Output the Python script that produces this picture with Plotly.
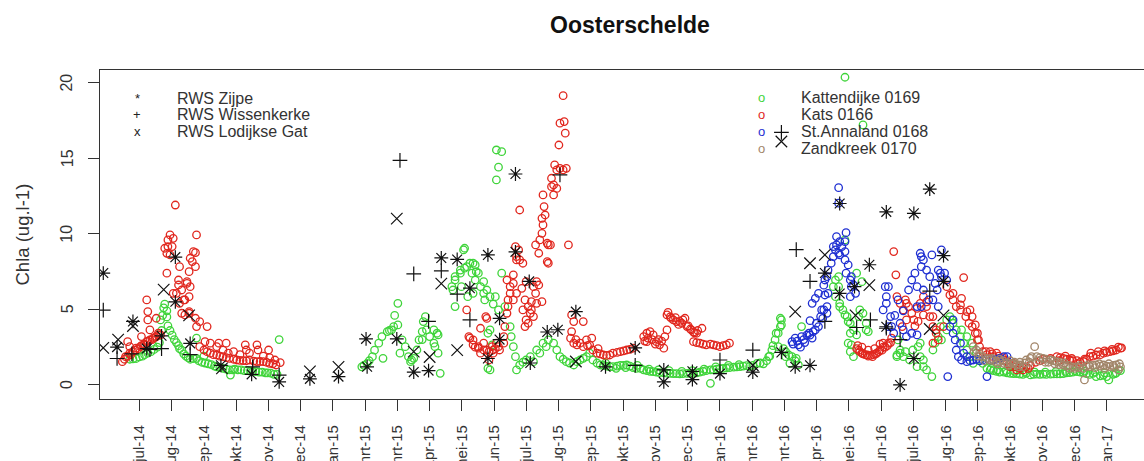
import plotly.graph_objects as go

# Chlorophyll-a in the Oosterschelde, mid 2014 - early 2017.
# x values are days counted from 1 June 2014.

title_text = "Oosterschelde"
y_title = "Chla (ug.l-1)"

tick_labels = ["jul-14", "aug-14", "sep-14", "okt-14", "nov-14", "dec-14", "jan-15",
               "mrt-15", "mrt-15", "apr-15", "mei-15", "jun-15", "jul-15", "aug-15",
               "sep-15", "okt-15", "nov-15", "dec-15", "jan-16", "mrt-16", "mrt-16",
               "apr-16", "mei-16", "jun-16", "jul-16", "aug-16", "sep-16", "okt-16",
               "nov-16", "dec-16", "jan-17"]
tick_first_day = 30
tick_step_days = 30.44
y_ticks = [0, 5, 10, 15, 20]

# RWS monitoring stations: (day, chla)
zijpe = [(-4, 7.4), (9, 2.5), (24, 4.2), (37, 2.4), (51, 3.25), (64, 8.45), (64, 5.5),
         (78, 2.75), (107, 1.3), (136, 0.7), (162, 0.2), (191, 0.4), (218, 0.55),
         (244, 3.05), (245, 1.2), (273, 3.05), (289, 0.85), (303, 0.95), (315, 8.4),
         (330, 8.3), (342, 6.4), (359, 8.6), (359, 1.75), (370, 4.4), (370, 3.0),
         (385, 13.95), (385, 8.8), (398, 6.85), (399, 1.45), (415, 3.5), (425, 3.65),
         (442, 4.85), (470, 1.2), (498, 2.45), (525, 1.0), (525, 0.2), (552, 0.9),
         (552, 0.35), (578, 0.75), (609, 0.85), (636, 2.15), (649, 1.2), (663, 1.3),
         (677, 7.4), (691, 12.0), (691, 6.05), (705, 6.5), (719, 7.95), (735, 11.45),
         (735, 3.85), (748, 0.0), (761, 11.35), (761, 1.75), (776, 12.95), (789, 8.55),
         (789, 6.85)]

wissenkerke = [(-4, 4.95), (9, 1.75), (23, 2.05), (40, 2.35), (51, 2.4), (78, 2.0),
               (137, 1.2), (162, 0.65), (276, 14.85), (289, 7.35), (303, 4.2), (315, 7.55),
               (330, 6.0), (342, 4.3), (427, 13.9), (498, 1.3), (578, 1.65), (609, 2.3),
               (636, 16.7), (650, 8.95), (663, 6.85), (677, 4.2), (707, 3.8), (720, 4.3),
               (735, 3.75), (748, 3.0), (776, 6.2)]

lodijkse_gat = [(-4, 2.45), (10, 3.0), (24, 3.9), (53, 6.3), (77, 4.6), (108, 1.1),
                (191, 0.9), (218, 1.2), (273, 11.0), (289, 2.2), (304, 1.85), (315, 6.7),
                (330, 2.3), (442, 1.55), (609, 1.3), (636, 16.1), (649, 4.85), (663, 8.05),
                (677, 8.6), (706, 4.6), (719, 6.6), (776, 3.7), (789, 4.6)]

# Continuous stations: (day, chla)
kattendijke = [
    (21, 1.7), (24, 1.72), (27, 1.75), (30, 1.85), (33, 1.9), (35, 2.0), (38, 2.1), (41, 2.2),
    (44, 2.35), (47, 2.5), (49, 2.8), (50, 4.3), (51, 3.6), (52, 4.6), (53, 5.1), (54, 5.35),
    (56, 4.9), (56, 4.5), (57, 3.9), (59, 3.6), (61, 3.3), (63, 3.0), (65, 2.8), (67, 2.6),
    (68, 2.4), (70, 2.3), (72, 2.05), (74, 1.9), (76, 1.8), (78, 1.7), (81, 1.75), (84, 1.75),
    (86, 1.6), (89, 1.5), (92, 1.45), (95, 1.4), (98, 1.35), (101, 1.25), (103, 1.2),
    (106, 1.15), (109, 1.1), (112, 1.05), (115, 1.0), (118, 1.0), (120, 1.05), (123, 1.0),
    (126, 1.0), (129, 0.95), (132, 0.95), (135, 0.9), (137, 0.9), (140, 0.88), (143, 0.85),
    (146, 0.85), (149, 0.8), (151, 0.8), (154, 0.78), (157, 0.7), (160, 0.7), (84, 3.1),
    (91, 1.9), (116, 0.65), (162, 3.0),
    (240, 1.2), (242, 1.3), (245, 1.43), (247, 1.6), (250, 1.87), (252, 2.3), (256, 2.76),
    (259, 3.2), (260, 1.76), (264, 3.53), (266, 3.6), (268, 3.64), (270, 3.86), (271, 4.6),
    (274, 5.4), (274, 3.97), (276, 2.1), (278, 2.98), (281, 2.53), (284, 1.87), (286, 1.54),
    (287, 1.65), (289, 1.76), (292, 2.31), (294, 2.98), (297, 3.53), (297, 3.0), (298, 4.19),
    (300, 4.52), (301, 3.64), (304, 3.2), (308, 2.76), (308, 3.64), (309, 2.53), (311, 3.42),
    (312, 2.1), (312, 3.31), (314, 0.77),
    (325, 6.5), (326, 6.28), (328, 6.94), (328, 5.18), (328, 7.16), (333, 7.6), (333, 7.39),
    (334, 6.5), (336, 8.93), (337, 9.04), (337, 7.72), (339, 7.82), (340, 5.84), (342, 8.05),
    (344, 7.39), (345, 6.06), (345, 8.05), (347, 6.94), (347, 7.94), (348, 7.49), (350, 7.39),
    (352, 6.5), (355, 6.83), (355, 6.06), (356, 5.62), (358, 6.28), (359, 3.42), (359, 1.1),
    (361, 5.84), (361, 3.64), (361, 0.99), (363, 2.65), (364, 5.35), (366, 5.84), (367, 15.54),
    (367, 13.56), (369, 14.4), (369, 4.96), (372, 15.43), (372, 7.39), (375, 5.18), (380, 3.86),
    (381, 3.2), (383, 2.53), (385, 1.87), (386, 0.99),
    (389, 1.32), (392, 1.5), (395, 1.65), (399, 1.87), (402, 1.54), (405, 2.31), (408, 2.1),
    (411, 2.76), (414, 2.53), (416, 2.98), (421, 2.76), (424, 2.31), (427, 1.87), (430, 1.7),
    (433, 1.54), (436, 1.45), (440, 1.32), (443, 1.54), (446, 1.65), (449, 1.76), (452, 1.87),
    (455, 2.1), (458, 1.65), (462, 1.45), (465, 1.32), (468, 1.3), (471, 1.25), (474, 1.2),
    (477, 1.21), (481, 1.25), (484, 1.3), (487, 1.3), (490, 1.32), (493, 1.25), (496, 1.15),
    (499, 1.1), (503, 1.1), (506, 1.0), (509, 0.95), (512, 0.9), (515, 0.88), (518, 0.85),
    (521, 0.82), (525, 0.8), (528, 0.78), (531, 0.77), (534, 0.75), (537, 0.75), (540, 0.73),
    (543, 0.75), (547, 0.76), (550, 0.77), (553, 0.77), (556, 0.8), (559, 0.85), (562, 0.9),
    (565, 0.95), (569, 0.99), (572, 1.0), (575, 1.05), (578, 1.08), (581, 1.1), (584, 1.12),
    (587, 1.15), (591, 1.18), (594, 1.2), (597, 1.21), (600, 1.25), (603, 1.28), (569, 0.11),
    (470, 1.45), (480, 1.1), (489, 1.15), (500, 1.3), (511, 1.05), (520, 1.0), (530, 0.95),
    (542, 0.9), (552, 0.95), (563, 1.05), (574, 1.2), (586, 1.3), (596, 1.35),
    (606, 1.21), (609, 1.3), (613, 1.43), (616, 1.45), (619, 1.4), (622, 1.6), (624, 1.87),
    (625, 1.9), (627, 2.31), (628, 2.6), (630, 2.98), (631, 3.42), (633, 3.42), (633, 2.53),
    (635, 3.86), (635, 4.41), (636, 4.3), (636, 3.97), (638, 2.4), (640, 2.2), (640, 1.87),
    (643, 1.98), (644, 1.43), (646, 1.87), (649, 1.6), (650, 1.76), (652, 1.32), (655, 3.86),
    (685, 6.5), (687, 6.94), (687, 5.84), (690, 7.16), (690, 6.5), (691, 5.4), (691, 5.18),
    (694, 4.96), (696, 9.59), (696, 4.63), (696, 20.35), (698, 4.52), (699, 4.19), (699, 2.76),
    (701, 4.08), (701, 3.42), (701, 2.2), (702, 2.65), (704, 3.64), (704, 1.87), (707, 3.31),
    (707, 7.39), (709, 4.52), (710, 4.96), (712, 6.83), (713, 4.74), (713, 17.2), (716, 4.08),
    (716, 3.64), (718, 3.53),
    (745, 1.87), (745, 1.98), (746, 2.98), (748, 2.31), (748, 2.1), (751, 1.87), (753, 2.2),
    (757, 1.65), (760, 2.31), (764, 1.21), (765, 2.53), (767, 2.76), (767, 1.87), (770, 1.65),
    (770, 1.21), (773, 0.99), (778, 0.55), (779, 2.31), (781, 2.76), (784, 3.2), (786, 3.86),
    (787, 2.98), (792, 4.3), (792, 3.64), (795, 4.52), (797, 4.3), (798, 4.08), (801, 3.64),
    (805, 3.2), (806, 3.64), (808, 2.76), (811, 2.31), (811, 3.2), (814, 1.87), (816, 2.76),
    (817, 1.43), (820, 2.1), (823, 1.6), (826, 1.43), (830, 1.1),
    (833, 0.99), (836, 0.95), (839, 0.9), (842, 0.85), (846, 0.85), (849, 0.8), (852, 0.77),
    (855, 0.75), (858, 0.75), (861, 0.72), (864, 0.7), (867, 0.77), (871, 0.66), (874, 0.7),
    (877, 0.72), (880, 0.7), (883, 0.72), (886, 0.7), (890, 0.72), (893, 0.73), (896, 0.73),
    (899, 0.73), (902, 0.75), (905, 0.8), (908, 0.82), (911, 0.85), (915, 0.88), (918, 0.85),
    (921, 0.8), (924, 0.75), (927, 0.7), (930, 0.77), (933, 0.55), (937, 0.6), (940, 0.65),
    (943, 0.55), (945, 0.33), (949, 0.7), (952, 0.8), (954, 0.99), (956, 0.95),
    (834, 1.1), (840, 1.0), (848, 0.95), (856, 0.9), (866, 0.88), (875, 0.85), (885, 0.85),
    (895, 0.88), (904, 0.9), (913, 0.95), (922, 0.92), (932, 0.85), (941, 0.8), (951, 0.75),
]

kats = [
    (14, 1.54), (16, 1.7), (17, 1.87), (19, 1.9), (21, 2.1), (22, 2.0), (24, 2.2), (26, 2.3),
    (27, 2.43), (29, 2.4), (31, 2.53), (32, 2.6), (34, 2.65), (35, 2.7), (37, 2.86), (38, 2.9),
    (40, 2.98), (42, 3.0), (43, 3.09), (45, 3.15), (46, 3.2), (48, 3.3), (50, 3.31),
    (19, 2.86), (21, 2.53), (32, 3.2), (37, 5.62), (38, 4.85), (38, 4.3), (40, 3.64), (46, 4.41),
    (48, 3.42), (54, 9.04), (56, 7.39), (56, 8.7), (57, 9.59), (57, 9.15), (59, 9.92), (59, 8.6),
    (61, 9.15), (62, 9.7), (62, 6.06), (64, 11.9), (65, 6.06), (67, 6.94), (67, 6.61), (68, 7.82),
    (68, 5.4), (70, 6.28), (70, 4.74), (72, 5.62), (73, 4.63), (73, 5.62), (75, 6.83), (75, 6.72),
    (77, 5.84), (77, 7.49), (77, 4.74), (77, 4.85), (78, 6.5), (78, 8.38), (80, 8.16), (81, 8.82),
    (83, 7.82), (83, 4.41), (83, 8.75), (84, 9.92), (84, 3.86), (87, 4.19), (94, 3.86),
    (87, 2.53), (91, 2.31), (92, 2.86), (94, 2.2), (97, 2.1), (97, 2.76), (100, 2.0), (103, 1.98),
    (103, 2.53), (105, 2.76), (106, 1.9), (109, 1.87), (109, 2.3), (112, 2.76), (112, 1.8),
    (114, 2.1), (115, 1.76), (119, 1.7), (119, 2.2), (122, 1.65), (125, 1.62), (125, 2.0),
    (128, 1.61), (130, 2.65), (131, 2.31), (131, 1.6), (134, 1.65), (134, 2.1), (138, 1.58),
    (141, 1.54), (141, 2.65), (142, 2.31), (144, 1.55), (147, 1.54), (147, 1.9), (150, 1.5),
    (152, 2.31), (153, 1.43), (153, 1.8), (156, 1.4), (158, 1.65), (159, 1.32), (163, 1.48),
    (339, 4.96), (341, 3.2), (342, 3.1), (345, 2.98), (345, 2.65), (347, 2.5), (350, 2.53),
    (350, 2.43), (352, 2.1), (352, 3.75), (355, 2.76), (355, 2.31), (357, 4.52), (358, 2.31),
    (358, 4.4), (360, 2.2), (360, 1.65), (363, 2.53), (364, 2.1), (364, 2.31), (366, 2.4),
    (367, 2.76), (369, 2.53), (370, 2.31), (374, 3.2), (374, 2.76), (375, 3.86), (377, 4.74),
    (377, 6.94), (378, 5.62), (378, 5.18), (380, 6.06), (380, 6.5), (383, 6.72), (383, 7.28),
    (383, 5.62), (385, 9.15), (386, 6.06), (386, 8.27), (386, 8.49), (388, 8.93), (389, 11.57),
    (389, 8.27), (391, 6.39), (392, 8.05), (392, 4.96), (394, 5.62), (394, 3.86), (395, 4.3),
    (395, 6.83), (397, 5.18), (397, 4.08), (399, 4.74), (400, 5.51), (400, 4.96), (402, 6.5),
    (402, 4.52), (404, 6.06), (404, 9.26), (405, 6.83), (405, 5.4), (407, 6.61), (407, 8.71),
    (408, 9.59), (410, 10.03), (412, 11.8), (410, 11.02), (410, 5.51), (411, 10.58),
    (411, 12.57), (413, 11.24), (415, 8.15), (415, 9.37), (416, 9.26), (416, 8.05), (418, 9.26),
    (419, 13.11), (419, 13.67), (421, 12.57), (421, 13.23), (422, 14.55), (424, 14.22),
    (424, 13.0), (426, 15.87), (427, 14.33), (427, 17.31), (430, 19.13), (430, 14.22),
    (431, 17.42), (432, 16.65), (433, 14.33), (435, 9.26), (438, 4.63), (440, 4.19), (449, 4.19),
    (437, 3.09), (438, 3.53), (440, 2.76), (442, 3.0), (443, 2.65), (446, 2.76), (449, 2.53),
    (452, 2.98), (453, 2.6), (455, 2.65), (457, 3.09), (458, 2.31), (462, 2.1), (463, 2.4),
    (465, 2.05), (468, 1.98), (471, 1.95), (474, 1.98), (477, 2.1), (481, 2.15), (484, 2.2),
    (487, 2.25), (490, 2.31), (493, 2.35), (496, 2.43),
    (506, 3.2), (507, 2.9), (509, 3.42), (509, 2.86), (510, 3.1), (512, 3.53), (514, 3.0),
    (515, 3.31), (517, 2.7), (518, 2.86), (520, 3.0), (521, 2.65), (523, 2.9), (525, 2.43),
    (526, 3.2), (528, 3.64),
    (528, 4.63), (529, 4.8), (531, 4.5), (532, 4.41), (534, 4.3), (536, 4.45), (537, 4.19),
    (539, 4.0), (540, 4.2), (542, 4.08), (543, 4.3), (545, 4.41), (547, 3.86), (548, 3.9),
    (550, 3.7), (551, 3.64), (553, 3.5), (554, 3.45), (556, 3.42), (557, 3.6), (561, 3.75),
    (553, 2.86), (556, 2.8), (559, 2.76), (562, 2.7), (565, 2.65), (569, 2.7), (572, 2.65),
    (575, 2.6), (578, 2.53), (581, 2.6), (584, 2.65), (587, 2.76),
    (707, 2.4), (708, 2.6), (709, 2.3), (710, 2.2), (712, 2.1), (712, 2.5), (713, 2.05),
    (715, 2.0), (717, 1.98), (718, 1.9), (718, 2.3), (720, 1.95), (722, 1.87), (723, 2.0),
    (724, 2.4), (725, 2.05), (726, 2.1), (728, 2.2), (729, 2.31), (729, 2.7), (731, 2.3),
    (732, 2.5), (732, 2.76), (734, 2.5), (736, 2.6), (737, 2.76), (739, 2.8), (740, 3.09),
    (742, 8.82), (744, 7.28), (745, 5.84), (748, 5.4), (750, 3.86), (751, 4.96), (753, 5.62),
    (754, 4.3), (754, 5.4), (756, 5.18), (759, 4.74), (761, 4.3), (762, 3.9), (764, 5.07),
    (765, 4.2), (767, 5.4), (770, 5.84), (770, 4.63), (773, 5.18), (773, 5.5), (776, 4.52),
    (779, 3.86), (779, 4.52), (779, 2.76), (782, 3.42), (782, 3.64), (784, 2.98), (789, 3.86),
    (792, 6.5), (795, 5.95), (798, 5.62), (798, 6.06), (801, 5.18), (805, 4.96), (805, 5.29),
    (806, 5.73), (808, 7.1), (810, 4.52), (811, 4.85), (813, 4.08), (814, 4.96), (816, 3.86),
    (816, 4.52), (819, 3.42), (819, 3.97), (821, 2.98), (821, 3.42), (822, 2.98), (823, 2.53),
    (826, 2.2),
    (830, 2.0), (833, 2.2), (836, 1.87), (839, 2.1), (842, 1.75), (846, 1.65), (849, 1.55),
    (852, 1.21), (855, 1.43), (858, 0.99), (861, 1.1), (864, 0.99), (867, 1.2), (871, 1.3),
    (876, 1.5), (880, 1.6), (883, 1.7), (890, 1.75), (896, 1.87), (899, 1.8), (902, 1.76),
    (905, 1.7), (908, 1.65), (911, 1.6), (915, 1.61), (918, 1.5), (921, 1.55), (924, 1.7),
    (927, 1.87), (930, 1.9), (933, 1.98), (937, 2.0), (940, 2.1), (943, 2.15), (946, 2.2),
    (949, 2.25), (952, 2.31), (956, 2.43), (957, 2.45),
    (829, 2.2), (835, 2.05), (841, 1.9), (845, 1.8), (851, 1.4), (857, 1.2), (863, 1.2),
    (869, 1.1), (898, 1.6), (904, 1.9), (910, 1.75), (916, 1.4), (922, 1.7), (928, 2.1),
    (935, 2.2), (941, 2.25), (948, 2.35), (954, 2.5),
]

st_annaland = [
    (646, 2.86), (647, 2.7), (649, 3.09), (651, 2.9), (652, 2.65), (654, 2.5), (655, 3.2),
    (657, 3.0), (658, 2.8), (660, 3.3), (662, 3.42), (663, 3.3), (663, 4.25), (665, 3.1),
    (665, 5.4), (666, 3.53), (668, 3.64), (668, 5.73), (669, 4.08), (671, 3.86), (671, 6.06),
    (673, 4.52), (674, 4.96), (675, 4.4), (676, 6.6), (676, 4.96), (677, 6.94), (677, 5.95),
    (679, 5.18), (679, 7.16), (679, 4.74), (680, 7.6), (680, 6.06), (683, 8.05), (685, 8.49),
    (685, 9.15), (687, 8.93), (688, 9.26), (688, 9.81), (690, 12.02), (690, 8.71), (690, 13.05),
    (691, 8.6), (691, 9.48), (693, 9.15), (696, 9.48), (696, 8.82), (696, 8.27), (697, 10.07),
    (697, 7.39), (699, 7.94), (701, 6.94), (701, 5.84), (702, 6.5), (702, 7.16), (704, 6.61),
    (706, 6.06),
    (732, 4.96), (734, 6.5), (735, 5.84), (735, 5.4), (737, 6.5), (737, 3.86), (739, 4.52),
    (740, 3.86), (742, 3.42), (743, 4.6), (746, 5.62), (748, 4.08), (751, 3.64), (751, 4.9),
    (754, 3.2), (756, 6.28), (759, 6.94), (759, 3.42), (762, 7.39), (764, 6.5), (764, 5.18),
    (764, 3.31), (767, 8.71), (768, 7.82), (768, 8.49), (768, 5.18), (770, 8.27), (770, 6.28),
    (773, 7.6), (775, 5.62), (776, 7.16), (778, 8.6), (779, 5.62), (781, 6.72), (783, 6.28),
    (784, 7.6), (784, 5.18), (786, 7.39), (787, 8.93), (787, 7.16), (790, 7.39), (792, 6.94),
    (793, 0.55), (795, 3.86), (798, 3.42), (798, 4.3), (800, 2.98), (801, 2.31), (803, 1.87),
    (805, 2.76), (806, 1.65), (808, 2.1), (811, 1.54), (811, 1.87), (814, 1.6), (817, 1.65),
    (820, 1.7), (823, 1.6), (826, 1.65), (830, 0.55), (833, 1.65), (836, 1.65), (839, 1.7),
    (842, 1.76), (846, 1.87), (849, 1.87),
]

zandkreek = [
    (817, 2.53), (820, 2.31), (823, 2.1), (826, 1.87), (830, 1.75), (833, 1.65), (836, 1.6),
    (839, 1.54), (842, 1.54), (842, 1.7), (846, 1.43), (849, 1.45), (852, 1.43), (852, 1.6),
    (855, 1.4), (858, 1.32), (861, 1.32), (861, 1.5), (864, 1.21), (867, 1.65), (871, 1.76),
    (872, 1.87), (875, 2.53), (877, 1.87), (880, 1.8), (883, 1.76), (885, 1.5), (886, 1.7),
    (890, 1.65), (893, 1.6), (896, 1.54), (899, 1.5), (902, 1.32), (905, 1.25), (908, 1.1),
    (911, 1.2), (915, 1.21), (918, 1.3), (921, 1.1), (922, 0.33), (924, 1.25), (927, 1.21),
    (930, 1.3), (933, 1.32), (937, 1.25), (940, 1.32), (943, 1.25), (946, 1.21), (949, 1.3),
    (952, 1.32), (954, 0.99), (956, 1.2),
    (818, 2.2), (822, 1.9), (828, 1.6), (835, 1.75), (840, 1.4), (845, 1.6), (850, 1.3),
    (856, 1.5), (860, 1.2), (866, 1.45), (870, 1.5), (879, 1.6), (888, 1.5), (894, 1.4),
    (898, 1.35), (903, 1.45), (907, 1.3), (913, 1.1), (917, 1.15), (926, 1.35), (932, 1.15),
    (936, 1.4), (941, 1.1), (945, 1.4), (950, 1.15), (955, 1.4),
]

station_series = [
    ("Kattendijke 0169", kattendijke, "#3fd43a"),
    ("Kats 0166", kats, "#e1271e"),
    ("St.Annaland 0168", st_annaland, "#1f2fd2"),
    ("Zandkreek 0170", zandkreek, "#a2866a"),
]
rws_series = [
    ("RWS Zijpe", zijpe, "asterisk-open", 11.5, "*"),
    ("RWS Wissenkerke", wissenkerke, "cross-thin-open", 10.5, "+"),
    ("RWS Lodijkse Gat", lodijkse_gat, "x-thin-open", 11.5, "x"),
]


def columns(pairs):
    return [p[0] for p in pairs], [p[1] for p in pairs]


fig = go.Figure()

for name, pairs, color in station_series:
    xs, ys = columns(pairs)
    fig.add_trace(go.Scatter(
        x=xs, y=ys, mode="markers", name=name, showlegend=False,
        marker=dict(symbol="circle-open", size=7.5, color=color,
                    line=dict(width=1.3, color=color)),
    ))

for name, pairs, symbol, size, _ in rws_series:
    xs, ys = columns(pairs)
    fig.add_trace(go.Scatter(
        x=xs, y=ys, mode="markers", name=name, showlegend=False,
        marker=dict(symbol=symbol, size=size, color="#111111",
                    line=dict(width=1.2, color="#111111")),
    ))

# Figure geometry (pixels) used to place the legend blocks
W, H = 1144, 461
L, R, T, B = 100, 0, 70, 62
plot_w, plot_h = W - L - R, H - T - B


def paper_x(px):
    return (px - L) / plot_w


def paper_y(py):
    return (H - B - py) / plot_h


font_family = "Liberation Sans, Arial, sans-serif"
text_color = "#333333"
annotations = []

# legend, RWS stations (top left)
for i, (name, _, _, _, glyph) in enumerate(rws_series):
    row = 98 + i * 16.7
    annotations.append(dict(x=paper_x(137), y=paper_y(row), xref="paper", yref="paper",
                            text=glyph, showarrow=False, xanchor="center", yanchor="middle",
                            font=dict(family=font_family, size=13, color="#222222")))
    annotations.append(dict(x=paper_x(175), y=paper_y(row), xref="paper", yref="paper",
                            text=name, showarrow=False, xanchor="left", yanchor="middle",
                            font=dict(family=font_family, size=16, color=text_color)))

# legend, continuous stations (top right)
for i, (name, _, color) in enumerate(station_series):
    row = 97.5 + i * 16.9
    annotations.append(dict(x=paper_x(761), y=paper_y(row), xref="paper", yref="paper",
                            text="o", showarrow=False, xanchor="center", yanchor="middle",
                            font=dict(family=font_family, size=13, color=color)))
    annotations.append(dict(x=paper_x(799), y=paper_y(row), xref="paper", yref="paper",
                            text=name, showarrow=False, xanchor="left", yanchor="middle",
                            font=dict(family=font_family, size=16, color=text_color)))

# y tick labels, written vertically next to each tick
for v in y_ticks:
    annotations.append(dict(x=paper_x(67), y=v, xref="paper", yref="y", text=str(v),
                            textangle=-90, showarrow=False, xanchor="center",
                            yanchor="middle",
                            font=dict(family=font_family, size=16, color=text_color)))

# y-axis title
annotations.append(dict(x=paper_x(22), y=0.5, xref="paper", yref="paper", text=y_title,
                        textangle=-90, showarrow=False, xanchor="center", yanchor="middle",
                        font=dict(family=font_family, size=18.5, color=text_color)))

tick_vals = [tick_first_day + k * tick_step_days for k in range(len(tick_labels))]

fig.update_layout(
    width=W, height=H,
    margin=dict(l=L, r=R, t=T, b=B, autoexpand=False),
    paper_bgcolor="white", plot_bgcolor="white",
    font=dict(family=font_family, size=15, color=text_color),
    title=dict(text="<b>" + title_text + "</b>", x=630 / W, y=1 - 25 / H,
               xref="container", yref="container", xanchor="center", yanchor="middle",
               font=dict(family=font_family, size=23, color="#111111")),
    annotations=annotations,
    showlegend=False,
)
fig.update_xaxes(
    range=[-7.1, 978.2], tickmode="array", tickvals=tick_vals, ticktext=tick_labels,
    tickangle=-90, ticks="outside", ticklen=11, tickwidth=1, tickcolor=text_color,
    showline=True, linecolor=text_color, linewidth=1.2, mirror=True,
    showgrid=False, zeroline=False, ticklabelstandoff=8, automargin=False,
    tickfont=dict(family=font_family, size=15, color=text_color),
)
fig.update_yaxes(
    range=[-0.93, 20.83], tickmode="array", tickvals=y_ticks, showticklabels=False,
    ticks="outside", ticklen=11, tickwidth=1, tickcolor=text_color,
    showline=True, linecolor=text_color, linewidth=1.2,
    showgrid=False, zeroline=False, automargin=False,
)

fig.write_html("out.html")
